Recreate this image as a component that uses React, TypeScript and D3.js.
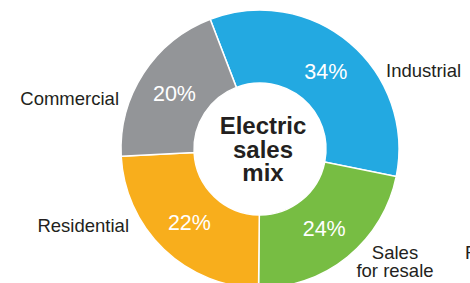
import React, { useEffect, useRef } from "react";
import * as d3 from "d3";

// segments, clockwise from the top-left split
const segments = ["Industrial", "Sales for resale", "Residential", "Commercial"];
// printed percent labels
const pctLabels = ["34%", "24%", "22%", "20%"];
// wedge sizes as drawn in the picture
const arcShare = [34, 22, 24, 20];
const colors = ["#23a9e1", "#77bd43", "#f8ae1c", "#939598"];
const centerLines = ["Electric", "sales", "mix"];

const W = 470;
const H = 283;

const App = () => {
  const ref = useRef<SVGSVGElement>(null);

  useEffect(() => {
    const svg = d3.select(ref.current);
    svg.selectAll("*").remove();

    const cx = 260;
    const cy = 149;
    const outerR = 139;
    const innerR = 66;
    const start = (-21 * Math.PI) / 180;

    const g = svg.append("g").attr("transform", `translate(${cx},${cy})`);

    const pie = d3
      .pie<number>()
      .sort(null)
      .value((d) => d)
      .startAngle(start)
      .endAngle(start + 2 * Math.PI);

    const arcs = pie(arcShare);

    const arc = d3
      .arc<d3.PieArcDatum<number>>()
      .innerRadius(innerR)
      .outerRadius(outerR);

    const labelArc = d3
      .arc<d3.PieArcDatum<number>>()
      .innerRadius(102)
      .outerRadius(102);

    g.append("g")
      .attr("stroke", "white")
      .attr("stroke-width", 1.5)
      .selectAll("path")
      .data(arcs)
      .enter()
      .append("path")
      .attr("fill", (d, i) => colors[i])
      .attr("d", arc);

    g.append("g")
      .attr("font-family", "'Liberation Sans', Arial, sans-serif")
      .attr("font-size", 21.5)
      .attr("fill", "white")
      .attr("text-anchor", "middle")
      .selectAll("text")
      .data(arcs)
      .enter()
      .append("text")
      .attr("transform", (d) => `translate(${labelArc.centroid(d)})`)
      .attr("dy", "0.36em")
      .text((d, i) => pctLabels[i]);

    g.append("g")
      .attr("font-family", "'Liberation Sans', Arial, sans-serif")
      .attr("font-weight", "bold")
      .attr("font-size", 24)
      .attr("fill", "#231f20")
      .attr("text-anchor", "middle")
      .selectAll("text")
      .data(centerLines)
      .enter()
      .append("text")
      .attr("x", 3)
      .attr("y", (d, i) => -15 + i * 23.5)
      .text((d) => d);

    // outside category labels
    const outside = [
      { lines: ["Industrial"], x: 386, y: 77, anchor: "start" },
      { lines: ["Sales", "for resale"], x: 395, y: 259, anchor: "middle" },
      { lines: ["Residential"], x: 129, y: 232, anchor: "end" },
      { lines: ["Commercial"], x: 119, y: 105, anchor: "end" },
    ];

    const lab = svg
      .append("g")
      .attr("font-family", "'Liberation Sans', Arial, sans-serif")
      .attr("font-size", 18.5)
      .attr("fill", "#231f20");

    outside.forEach((o, i) => {
      const t = lab
        .append("text")
        .attr("text-anchor", o.anchor)
        .attr("aria-label", segments[i]);
      o.lines.forEach((l, j) => {
        t.append("tspan").attr("x", o.x).attr("y", o.y + j * 18).text(l);
      });
    });

    // clipped label at the right edge of the frame
    lab.append("text").attr("x", 465).attr("y", 259).text("R");
  }, []);

  return (
    <div style={{ position: "absolute", left: 0, top: 0 }}>
      <svg ref={ref} width={W} height={H} style={{ display: "block", background: "white" }} />
    </div>
  );
};

export default App;
